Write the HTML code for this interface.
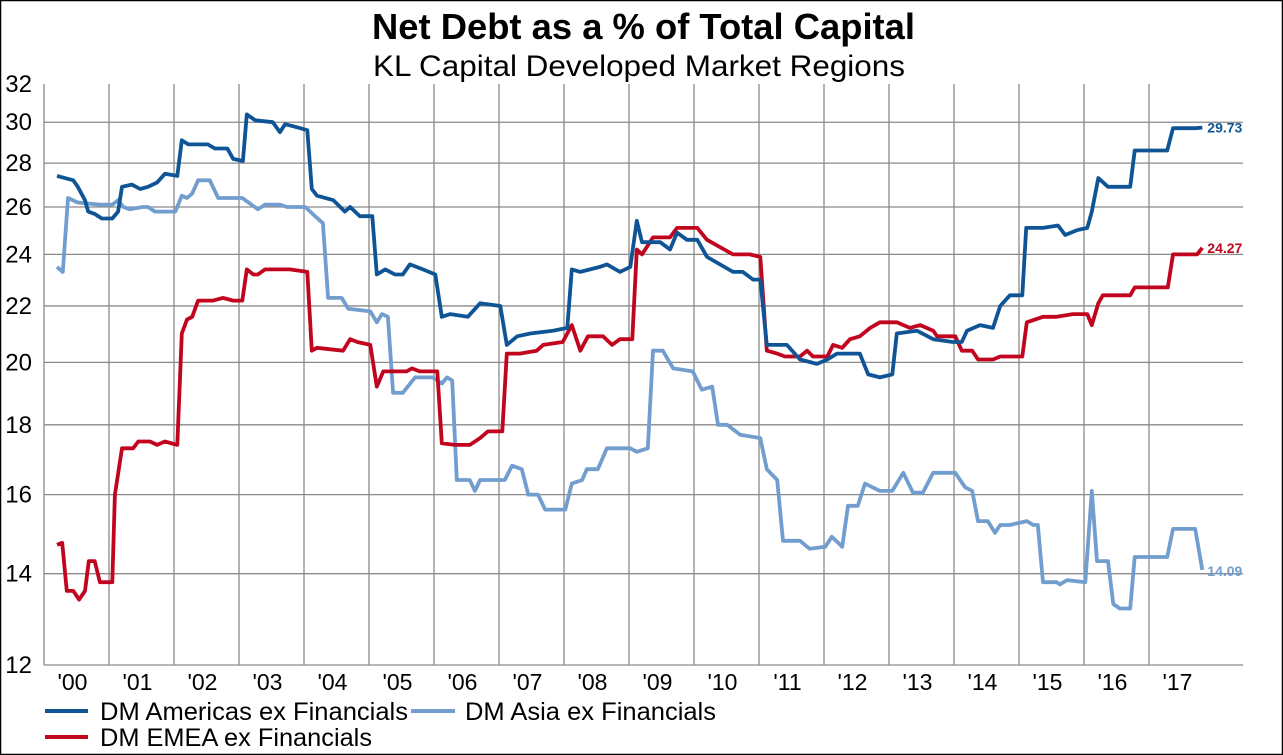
<!DOCTYPE html>
<html><head><meta charset="utf-8"><style>
body{margin:0;background:#fff;}
svg{display:block;font-family:"Liberation Sans",Arial,sans-serif;}
</style></head><body>
<svg id="chart" width="1283" height="755">
<rect x="0.5" y="0.5" width="1282" height="754" fill="#fff" stroke="#000" stroke-width="1.5"/>
<text x="372" y="39" textLength="543" lengthAdjust="spacingAndGlyphs" font-size="36" font-weight="bold">Net Debt as a % of Total Capital</text>
<text x="373" y="76" textLength="532" lengthAdjust="spacingAndGlyphs" font-size="30">KL Capital Developed Market Regions</text>
<g id="grid"></g><g id="series"></g>
<g>
<line x1="45" y1="711" x2="88" y2="711" stroke="#0f5596" stroke-width="4"/>
<text x="100" y="720" font-size="25" textLength="308" lengthAdjust="spacingAndGlyphs">DM Americas ex Financials</text>
<line x1="411" y1="711" x2="455" y2="711" stroke="#729ecf" stroke-width="4"/>
<text x="465" y="720" font-size="25" textLength="251" lengthAdjust="spacingAndGlyphs">DM Asia ex Financials</text>
<line x1="45" y1="737" x2="88" y2="737" stroke="#c2051f" stroke-width="4"/>
<text x="100" y="746" font-size="25" textLength="272" lengthAdjust="spacingAndGlyphs">DM EMEA ex Financials</text>
</g>
</svg>
<script>
const yTicks=[12,14,16,18,20,22,24,26,28,30,32];
const xYears=["'00","'01","'02","'03","'04","'05","'06","'07","'08","'09","'10","'11","'12","'13","'14","'15","'16","'17"];
const amerDates=[0.20,0.45,0.52,0.63,0.68,0.78,0.89,1.05,1.14,1.20,1.35,1.48,1.60,1.74,1.86,2.05,2.12,2.22,2.52,2.63,2.82,2.91,3.06,3.12,3.25,3.52,3.63,3.71,3.83,4.05,4.12,4.20,4.45,4.63,4.71,4.86,5.05,5.12,5.25,5.40,5.52,5.63,5.83,6.02,6.12,6.25,6.52,6.71,7.02,7.12,7.28,7.48,7.83,8.05,8.12,8.25,8.55,8.66,8.86,9.02,9.12,9.20,9.48,9.63,9.74,9.89,10.05,10.20,10.40,10.60,10.75,10.91,11.02,11.12,11.28,11.43,11.63,11.89,12.05,12.20,12.55,12.68,12.86,13.05,13.12,13.43,13.68,13.98,14.12,14.20,14.40,14.60,14.71,14.86,15.05,15.11,15.37,15.60,15.71,15.89,16.05,16.12,16.22,16.37,16.71,16.78,17.28,17.37,17.71,17.82];
const amerValues=[27.4,27.2,26.9,26.3,25.8,25.7,25.5,25.5,25.8,26.9,27.0,26.8,26.9,27.1,27.5,27.4,29.1,28.9,28.9,28.7,28.7,28.2,28.1,30.4,30.1,30.0,29.5,29.9,29.8,29.6,26.8,26.5,26.3,25.8,26.0,25.6,25.6,23.2,23.4,23.2,23.2,23.6,23.4,23.2,21.6,21.7,21.6,22.1,22.0,20.6,20.9,21.0,21.1,21.2,23.4,23.3,23.5,23.6,23.3,23.5,25.4,24.5,24.5,24.2,24.9,24.6,24.6,23.9,23.6,23.3,23.3,23.0,23.0,20.6,20.6,20.6,20.1,19.95,20.1,20.3,20.3,19.6,19.5,19.6,21.0,21.1,20.8,20.7,20.7,21.1,21.3,21.2,22.0,22.4,22.4,25.1,25.1,25.2,24.8,25.0,25.1,25.8,27.3,26.9,26.9,28.6,28.6,29.7,29.7,29.73];
const emeaDates=[0.20,0.28,0.35,0.45,0.54,0.63,0.69,0.78,0.86,1.05,1.09,1.20,1.37,1.45,1.63,1.74,1.86,2.05,2.12,2.20,2.28,2.37,2.60,2.75,2.91,3.05,3.12,3.22,3.29,3.40,3.78,4.05,4.12,4.20,4.60,4.71,4.82,5.02,5.12,5.22,5.58,5.66,5.78,6.05,6.12,6.32,6.55,6.71,6.83,7.05,7.12,7.32,7.58,7.68,7.98,8.12,8.25,8.37,8.60,8.74,8.86,9.05,9.12,9.20,9.37,9.63,9.74,10.05,10.20,10.40,10.60,10.86,11.02,11.12,11.28,11.40,11.63,11.74,11.83,12.05,12.14,12.28,12.40,12.55,12.71,12.86,13.12,13.32,13.48,13.68,13.74,14.02,14.12,14.28,14.37,14.60,14.71,15.05,15.12,15.37,15.58,15.83,16.05,16.12,16.22,16.29,16.71,16.78,17.29,17.37,17.74,17.82];
const emeaValues=[14.7,14.75,13.6,13.6,13.4,13.6,14.3,14.3,13.8,13.8,16.0,17.3,17.3,17.5,17.5,17.4,17.5,17.4,21.0,21.5,21.6,22.2,22.2,22.3,22.2,22.2,23.4,23.2,23.2,23.4,23.4,23.3,20.4,20.5,20.4,20.8,20.7,20.6,19.2,19.7,19.7,19.8,19.7,19.7,17.45,17.4,17.4,17.6,17.8,17.8,20.3,20.3,20.4,20.6,20.7,21.3,20.4,20.9,20.9,20.6,20.8,20.8,24.2,24.0,24.7,24.7,25.1,25.1,24.6,24.3,24.0,24.0,23.9,20.4,20.3,20.2,20.2,20.4,20.2,20.2,20.6,20.5,20.8,20.9,21.2,21.4,21.4,21.2,21.3,21.1,20.9,20.9,20.4,20.4,20.1,20.1,20.2,20.2,21.4,21.6,21.6,21.7,21.7,21.3,22.1,22.4,22.4,22.7,22.7,24.0,24.0,24.27];
const asiaDates=[0.20,0.29,0.37,0.52,0.86,1.05,1.14,1.22,1.32,1.52,1.60,1.71,2.02,2.12,2.20,2.28,2.37,2.55,2.68,3.05,3.29,3.40,3.63,3.74,4.02,4.17,4.29,4.37,4.58,4.68,5.02,5.12,5.20,5.29,5.37,5.52,5.71,5.98,6.12,6.20,6.28,6.35,6.55,6.63,6.71,7.09,7.20,7.35,7.45,7.60,7.71,8.02,8.12,8.28,8.35,8.52,8.66,9.02,9.12,9.29,9.37,9.52,9.68,9.98,10.12,10.28,10.37,10.51,10.71,11.02,11.12,11.28,11.37,11.63,11.78,12.02,12.12,12.28,12.37,12.52,12.63,12.86,13.05,13.22,13.37,13.52,13.68,14.02,14.17,14.28,14.37,14.52,14.63,14.71,14.86,15.12,15.22,15.29,15.37,15.58,15.63,15.74,16.02,16.12,16.20,16.37,16.45,16.55,16.71,16.78,17.28,17.37,17.71,17.82];
const asiaValues=[23.5,23.3,26.4,26.2,26.1,26.1,26.3,26.0,25.9,26.0,26.0,25.8,25.8,26.5,26.4,26.6,27.2,27.2,26.4,26.4,25.9,26.1,26.1,26.0,26.0,25.6,25.3,22.3,22.3,21.9,21.8,21.4,21.7,21.6,19.0,19.0,19.5,19.5,19.3,19.5,19.4,16.4,16.4,16.1,16.4,16.4,16.8,16.7,16.0,16.0,15.6,15.6,16.3,16.4,16.7,16.7,17.3,17.3,17.2,17.3,20.4,20.4,19.8,19.7,19.1,19.2,18.0,18.0,17.7,17.6,16.7,16.4,14.8,14.8,14.6,14.65,14.9,14.65,15.7,15.7,16.3,16.1,16.1,16.6,16.05,16.05,16.6,16.6,16.2,16.1,15.3,15.3,15.0,15.2,15.2,15.3,15.2,15.2,13.8,13.8,13.75,13.85,13.8,16.1,14.3,14.3,13.3,13.2,13.2,14.4,14.4,15.1,15.1,14.09];

const NS="http://www.w3.org/2000/svg";
const L=44,R=1243,T=84,B=665,YW=65,YMIN=12,YMAX=32;
const xs=d=>L+d*YW;
const ys=v=>B-(Math.log(v/YMIN)/Math.log(YMAX/YMIN))*(B-T);
function mk(tag,attrs,parent){const e=document.createElementNS(NS,tag);for(const k in attrs)e.setAttribute(k,attrs[k]);parent.appendChild(e);return e;}
const grid=document.getElementById('grid');
yTicks.forEach(v=>{
  const y=ys(v);
  if(v<YMAX){const ln=mk('line',{x1:L,x2:R,y1:y,y2:y,stroke:'#8a8a8a','stroke-width':1.3},grid);
  
  }
  const t=mk('text',{x:32,y:y+8,'text-anchor':'end','font-size':24},grid);
  t.textContent=v;
  
  
});
for(let i=0;i<xYears.length;i++){
  const x=xs(i);
  const ln=mk('line',{x1:x,x2:x,y1:T,y2:B,stroke:'#8a8a8a','stroke-width':1.3},grid);
  
  
}
xYears.forEach((lab,i)=>{
  const t=mk('text',{x:xs(i+0.5)-4,y:690,'text-anchor':'middle','font-size':23},grid);
  t.textContent=lab;
  
  
});
const sg=document.getElementById('series');
function draw(dates,vals,color,name,lbl,dy){
  const pts=dates.map((d,i)=>xs(d).toFixed(1)+','+ys(vals[i]).toFixed(1)).join(' ');
  const pl=mk('polyline',{points:pts,fill:'none',stroke:color,'stroke-width':3.8,'stroke-linejoin':'round'},sg);
  
  
  const n=dates.length-1;
  const t=mk('text',{x:xs(dates[n])+5,y:ys(vals[n])+5+dy,'font-size':14,'font-weight':'bold',fill:color},sg);
  t.textContent=vals[n].toFixed(2);
  
  
}
draw(asiaDates,asiaValues,'#729ecf','asia-line','asia-end-label',1);
draw(emeaDates,emeaValues,'#c2051f','emea-line','emea-end-label',0);
draw(amerDates,amerValues,'#0f5596','americas-line','americas-end-label',0);
</script>
</body></html>
